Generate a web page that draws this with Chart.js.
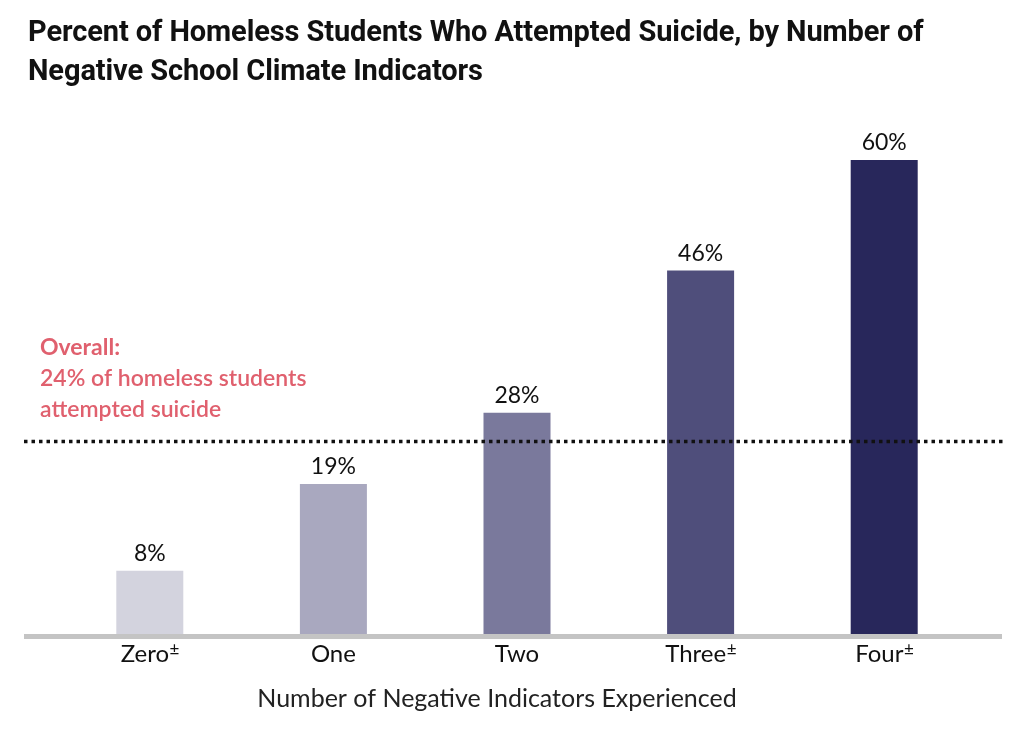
<!DOCTYPE html>
<html>
<head>
<meta charset="utf-8">
<script src="https://cdn.jsdelivr.net/npm/chart.js@4"></script>
<style>
  body { margin: 0; background: #fff; }
  #wrap { position: relative; width: 1024px; height: 740px; }
  #title {
    position: absolute; left: 28px; top: 12px;
    font-family: Roboto, sans-serif; font-weight: 700;
    font-size: 29px; line-height: 39px; letter-spacing: -0.1px;
    color: #111;
  }
  canvas { position: absolute; left: 0; top: 0; }
</style>
</head>
<body>
<div id="wrap">
  <canvas id="myChart" width="1024" height="740"></canvas>
  <div id="title">Percent of Homeless Students Who Attempted Suicide, by Number of<br>Negative School Climate Indicators</div>
</div>
<script>
const categories = ["Zero", "One", "Two", "Three", "Four"];
const footMarks = ["±", "", "", "±", "±"];
const values = [8, 19, 28, 46, 60];
const barColors = ["#d3d3de", "#a9a8bf", "#7a799c", "#4f4e7b", "#28275b"];
const overall = 24;
const overallText = ["Overall:", "24% of homeless students", "attempted suicide"];
const axisTitle = "Number of Negative Indicators Experienced";

const labelFont = "Lato, Roboto, sans-serif";

const extras = {
  id: "extras",
  afterDatasetsDraw(chart) {
    const ctx = chart.ctx;
    const x = chart.scales.x, y = chart.scales.y;
    const y0 = y.getPixelForValue(0);
    ctx.save();

    // baseline
    ctx.strokeStyle = "#c4c4c4";
    ctx.lineWidth = 5;
    ctx.beginPath();
    ctx.moveTo(24, y0 + 2.5);
    ctx.lineTo(1002, y0 + 2.5);
    ctx.stroke();

    // overall dotted line
    const yo = y.getPixelForValue(overall) - 3;
    ctx.strokeStyle = "#111";
    ctx.lineWidth = 3.5;
    ctx.setLineDash([3.5, 4]);
    ctx.beginPath();
    ctx.moveTo(24, yo);
    ctx.lineTo(1003, yo);
    ctx.stroke();
    ctx.setLineDash([]);

    // value labels
    ctx.fillStyle = "#111";
    ctx.textAlign = "center";
    ctx.textBaseline = "alphabetic";
    ctx.font = "23px " + labelFont;
    values.forEach((v, i) => {
      ctx.fillText(v + "%", x.getPixelForValue(i), y.getPixelForValue(v) - 10);
    });

    // category labels with footnote mark
    categories.forEach((c, i) => {
      ctx.font = "24px " + labelFont;
      const w1 = ctx.measureText(c).width;
      ctx.font = "17px " + labelFont;
      const w2 = footMarks[i] ? ctx.measureText(footMarks[i]).width : 0;
      const cx = x.getPixelForValue(i);
      const left = cx - (w1 + w2) / 2;
      ctx.textAlign = "left";
      ctx.font = "24px " + labelFont;
      ctx.fillText(c, left, 662);
      if (footMarks[i]) {
        ctx.font = "17px " + labelFont;
        ctx.fillText(footMarks[i], left + w1 + 0.5, 655);
      }
    });

    // axis title
    ctx.textAlign = "center";
    ctx.font = "25px " + labelFont;
    ctx.fillStyle = "#222";
    ctx.fillText(axisTitle, 497, 707);

    // overall annotation
    ctx.textAlign = "left";
    ctx.fillStyle = "#e0606e";
    overallText.forEach((t, i) => {
      ctx.font = (i === 0 ? "700 " : "600 ") + "23px " + labelFont;
      ctx.fillText(t, 40, 355 + i * 31);
    });

    ctx.restore();
  }
};

new Chart(document.getElementById("myChart"), {
  type: "bar",
  data: {
    labels: categories,
    datasets: [{
      data: values,
      backgroundColor: barColors,
      borderWidth: 0,
      categoryPercentage: 1,
      barPercentage: 0.365
    }]
  },
  options: {
    responsive: false,
    animation: false,
    layout: { padding: { left: 58, right: 48, top: 120.5, bottom: 106 } },
    plugins: { legend: { display: false }, tooltip: { enabled: false } },
    scales: {
      x: { display: false },
      y: { display: false, min: 0, max: 65 }
    }
  },
  plugins: [extras]
});
</script>
</body>
</html>
